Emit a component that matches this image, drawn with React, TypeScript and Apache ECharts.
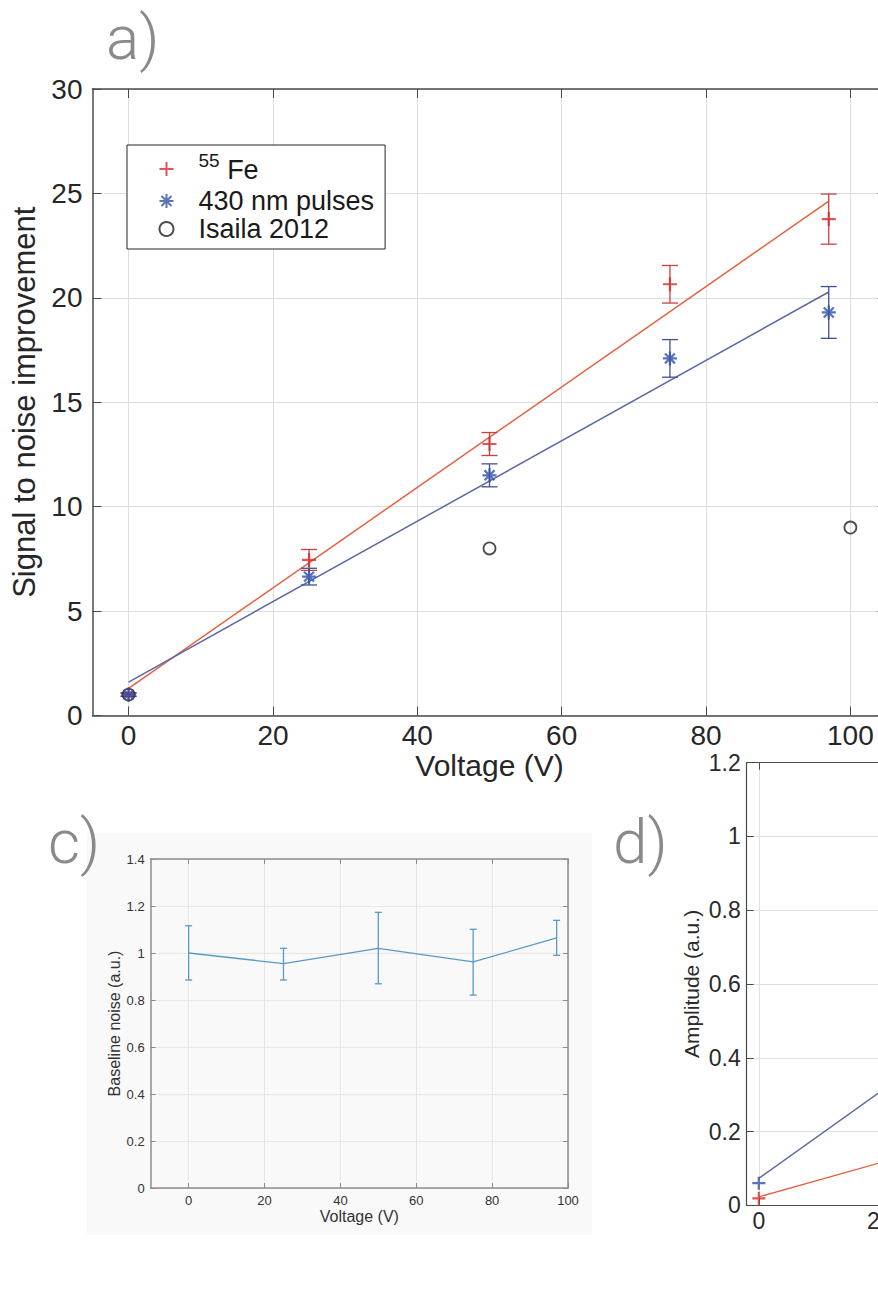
import React, { useEffect, useRef } from 'react';
import * as echarts from 'echarts';

// ---------- data: panel a) signal to noise improvement ----------
const voltages = [0, 25, 50, 75, 97];
const fe55Snr = [1.0, 7.45, 13.0, 20.65, 23.77];
const fe55Err = [0.08, 0.5, 0.55, 0.9, 1.2];
const pulseSnr = [1.0, 6.65, 11.5, 17.1, 19.3];
const pulseErr = [0.08, 0.4, 0.55, 0.9, 1.24];
const isailaV = [0, 50, 100];
const isailaSnr = [1.0, 8.0, 9.0];
const fitV = [0, 97];
const fe55Fit = [1.3, 24.63];
const pulseFit = [1.6, 20.28];
const snrTicksX = [0, 20, 40, 60, 80, 100];

// ---------- data: panel c) baseline noise ----------
const noiseV = [0, 25, 50, 75, 97];
const noiseMean = [1.0, 0.955, 1.02, 0.962, 1.064];
const noiseLow = [0.885, 0.885, 0.869, 0.821, 0.99];
const noiseHigh = [1.116, 1.02, 1.173, 1.101, 1.139];
const noiseTicksX = [0, 20, 40, 60, 80, 100];

// ---------- data: panel d) amplitude (only its left part is in view) ----------
const ampV = [0];
const ampPulse = [0.06];
const ampFe = [0.019];
const ampFitV = [0, 25];
const ampFitPulse = [0.073, 0.365];
const ampFitFe = [0.023, 0.138];
const ampTicksX = [0, 20, 40, 60, 80, 100];
const ampLabelsX = [0, 20];

const FE_NAME = '55 Fe';
const PULSE_NAME = '430 nm pulses';
const ISAILA_NAME = 'Isaila 2012';

const FONT = '"Liberation Sans", Arial, Helvetica, sans-serif';
const PANEL_FONT = 'Roboto, "Open Sans", sans-serif';
const RED_MARK = '#d42a2e';
const RED_ERR = '#c8403f';
const RED_FIT = '#e5603f';
const BLUE_MARK = '#2f4fa8';
const BLUE_ERR = '#3f5290';
const BLUE_FIT = '#5a68a8';
const NOISE_BLUE = '#5b9ac6';

const PLUS = 'path://M0,5L10,5M5,0L5,10';
const STAR = 'path://M5,0L5,10M0,5L10,5M1.46,1.46L8.54,8.54M8.54,1.46L1.46,8.54';

const pairs = (xs: number[], ys: number[]) => xs.map((x, i) => [x, ys[i]]);

function errorBarRenderer(color: string, halfCap: number, width: number) {
  return (_params: any, api: any) => {
    const x = api.value(0);
    const lo = api.coord([x, api.value(1)]);
    const hi = api.coord([x, api.value(2)]);
    const style = { stroke: color, lineWidth: width, fill: 'none' };
    return {
      type: 'group',
      children: [
        { type: 'line', shape: { x1: hi[0], y1: hi[1], x2: lo[0], y2: lo[1] }, style },
        { type: 'line', shape: { x1: hi[0] - halfCap, y1: hi[1], x2: hi[0] + halfCap, y2: hi[1] }, style },
        { type: 'line', shape: { x1: lo[0] - halfCap, y1: lo[1], x2: lo[0] + halfCap, y2: lo[1] }, style },
      ],
    };
  };
}

type AxisLook = {
  axisColor: string;
  axisWidth: number;
  gridColor: string;
  labelColor: string;
  fontSize: number;
  tickLen: number;
};

function xAxes(grid: number, min: number, max: number, ticks: number[], labels: number[], look: AxisLook, margin: number, name?: string, nameGap?: number, nameSize?: number) {
  const line = { show: true, onZero: false, lineStyle: { color: look.axisColor, width: look.axisWidth } };
  const tick = { show: true, inside: true, length: look.tickLen, customValues: ticks, lineStyle: { color: look.axisColor, width: 1 } };
  return [
    {
      gridIndex: grid, type: 'value', position: 'bottom', min, max,
      axisLine: line, axisTick: tick,
      axisLabel: { show: true, customValues: labels, margin, fontSize: look.fontSize, color: look.labelColor, fontFamily: FONT },
      splitLine: { show: true, lineStyle: { color: look.gridColor, width: 1 } },
      name: name || '', nameLocation: 'middle', nameGap: nameGap || 0,
      nameTextStyle: { fontSize: nameSize || 12, color: look.labelColor, fontFamily: FONT },
    },
    {
      gridIndex: grid, type: 'value', position: 'top', min, max,
      axisLine: line, axisTick: tick,
      axisLabel: { show: false, customValues: ticks },
      splitLine: { show: false },
    },
  ];
}

function yAxes(grid: number, min: number, max: number, interval: number, look: AxisLook, margin: number, name: string, nameGap: number, nameSize: number, fmt?: (v: number) => string) {
  const line = { show: true, onZero: false, lineStyle: { color: look.axisColor, width: look.axisWidth } };
  const tick = { show: true, inside: true, length: look.tickLen, lineStyle: { color: look.axisColor, width: 1 } };
  return [
    {
      gridIndex: grid, type: 'value', position: 'left', min, max, interval,
      axisLine: line, axisTick: tick,
      axisLabel: { show: true, margin, fontSize: look.fontSize, color: look.labelColor, fontFamily: FONT, formatter: fmt },
      splitLine: { show: true, lineStyle: { color: look.gridColor, width: 1 } },
      name, nameLocation: 'middle', nameGap,
      nameTextStyle: { fontSize: nameSize, color: look.labelColor, fontFamily: FONT },
    },
    {
      gridIndex: grid, type: 'value', position: 'right', min, max, interval,
      axisLine: line, axisTick: tick,
      axisLabel: { show: false },
      splitLine: { show: false },
    },
  ];
}

const lookA: AxisLook = { axisColor: '#4a4a4a', axisWidth: 1.5, gridColor: '#dedede', labelColor: '#262626', fontSize: 28, tickLen: 9 };
const lookC: AxisLook = { axisColor: '#8c8c8c', axisWidth: 1.5, gridColor: '#e6e6e6', labelColor: '#333333', fontSize: 13, tickLen: 5 };
const lookD: AxisLook = { axisColor: '#4a4a4a', axisWidth: 1.2, gridColor: '#e2e2e2', labelColor: '#2a2a2a', fontSize: 23, tickLen: 7 };

const trim = (v: number) => String(Math.round(v * 10) / 10);

const panelLabel = (text: string, x: number, y: number) => ({
  type: 'text',
  x,
  y,
  style: {
    text,
    fontSize: 62,
    lineHeight: 62,
    fontWeight: 300,
    fontFamily: PANEL_FONT,
    fill: '#8a8a8a',
    textVerticalAlign: 'middle',
  },
});

const option: any = {
  animation: false,
  backgroundColor: '#ffffff',
  graphic: [
    { type: 'rect', z: -10, shape: { x: 87, y: 833, width: 505, height: 402 }, style: { fill: '#f9f9f9' } },
    panelLabel('a)', 106, 37),
    panelLabel('c)', 48, 841),
    panelLabel('d)', 613, 841),
  ],
  grid: [
    { left: 92.5, top: 89, width: 794, height: 626.5 },
    { left: 150.7, top: 859, width: 417.3, height: 329 },
    { left: 746.7, top: 762.7, width: 617, height: 442.6 },
  ],
  xAxis: [
    ...xAxes(0, -5, 105, snrTicksX, snrTicksX, lookA, 6, 'Voltage (V)', 33, 30),
    ...xAxes(1, -10, 100, noiseTicksX, noiseTicksX, lookC, 6, 'Voltage (V)', 20, 16),
    ...xAxes(2, -2, 100, ampTicksX, ampLabelsX, lookD, 4),
  ],
  yAxis: [
    ...yAxes(0, 0, 30, 5, lookA, 10, 'Signal to noise improvement', 47, 31),
    ...yAxes(1, 0, 1.4, 0.2, lookC, 6, 'Baseline noise (a.u.)', 28, 16, trim),
    ...yAxes(2, 0, 1.2, 0.2, lookD, 6, 'Amplitude (a.u.)', 45, 21, trim),
  ],
  legend: {
    left: 127,
    top: 145,
    orient: 'vertical',
    backgroundColor: '#ffffff',
    borderColor: '#262626',
    borderWidth: 1,
    borderRadius: 0,
    padding: [6, 11, 6, 31.5],
    itemGap: 0,
    itemWidth: 54,
    itemHeight: 14,
    symbolKeepAspect: true,
    selectedMode: false,
    formatter: (name: string) => (name === FE_NAME ? '{sup|55} {fe|Fe}' : name),
    textStyle: {
      fontSize: 27,
      lineHeight: 28,
      color: '#1a1a1a',
      fontFamily: FONT,
      rich: {
        sup: { fontSize: 19, lineHeight: 19, padding: [0, 0, 17, 0], fontFamily: FONT, color: '#1a1a1a' },
        fe: { fontSize: 27, lineHeight: 28, verticalAlign: 'bottom', fontFamily: FONT, color: '#1a1a1a' },
      },
    },
    data: [
      { name: FE_NAME, icon: PLUS, itemStyle: { color: 'rgba(0,0,0,0)', borderColor: RED_MARK, borderWidth: 2 } },
      { name: PULSE_NAME, icon: STAR, itemStyle: { color: 'rgba(0,0,0,0)', borderColor: BLUE_MARK, borderWidth: 2 } },
      { name: ISAILA_NAME, icon: 'circle', itemStyle: { color: '#ffffff', borderColor: '#222222', borderWidth: 2 } },
    ],
  },
  series: [
    // ----- panel a -----
    {
      type: 'line', xAxisIndex: 0, yAxisIndex: 0, data: pairs(fitV, fe55Fit), symbol: 'none', silent: true, z: 2,
      lineStyle: { color: RED_FIT, width: 1.5 },
    },
    {
      type: 'line', xAxisIndex: 0, yAxisIndex: 0, data: pairs(fitV, pulseFit), symbol: 'none', silent: true, z: 2,
      lineStyle: { color: BLUE_FIT, width: 1.5 },
    },
    {
      type: 'custom', xAxisIndex: 0, yAxisIndex: 0, z: 3, silent: true,
      renderItem: errorBarRenderer(RED_ERR, 8, 1.3),
      encode: { x: 0, y: [1, 2] },
      data: voltages.map((v, i) => [v, fe55Snr[i] - fe55Err[i], fe55Snr[i] + fe55Err[i]]),
    },
    {
      type: 'custom', xAxisIndex: 0, yAxisIndex: 0, z: 3, silent: true,
      renderItem: errorBarRenderer(BLUE_ERR, 8, 1.3),
      encode: { x: 0, y: [1, 2] },
      data: voltages.map((v, i) => [v, pulseSnr[i] - pulseErr[i], pulseSnr[i] + pulseErr[i]]),
    },
    {
      name: FE_NAME, type: 'scatter', xAxisIndex: 0, yAxisIndex: 0, z: 4,
      symbol: PLUS, symbolSize: 14,
      itemStyle: { color: 'rgba(0,0,0,0)', borderColor: RED_MARK, borderWidth: 2.2 },
      data: pairs(voltages, fe55Snr),
    },
    {
      name: PULSE_NAME, type: 'scatter', xAxisIndex: 0, yAxisIndex: 0, z: 5,
      symbol: STAR, symbolSize: 14,
      itemStyle: { color: 'rgba(0,0,0,0)', borderColor: BLUE_MARK, borderWidth: 2.2 },
      data: pairs(voltages, pulseSnr),
    },
    {
      name: ISAILA_NAME, type: 'scatter', xAxisIndex: 0, yAxisIndex: 0, z: 4,
      symbol: 'circle', symbolSize: 12,
      itemStyle: { color: 'rgba(0,0,0,0)', borderColor: '#222222', borderWidth: 1.8 },
      data: pairs(isailaV, isailaSnr),
    },
    // ----- panel c -----
    {
      type: 'line', xAxisIndex: 2, yAxisIndex: 2, data: pairs(noiseV, noiseMean), symbol: 'none', silent: true, z: 2,
      lineStyle: { color: NOISE_BLUE, width: 1.3 },
    },
    {
      type: 'custom', xAxisIndex: 2, yAxisIndex: 2, z: 3, silent: true,
      renderItem: errorBarRenderer(NOISE_BLUE, 3.5, 1.3),
      encode: { x: 0, y: [1, 2] },
      data: noiseV.map((v, i) => [v, noiseLow[i], noiseHigh[i]]),
    },
    // ----- panel d -----
    {
      type: 'line', xAxisIndex: 4, yAxisIndex: 4, data: pairs(ampFitV, ampFitPulse), symbol: 'none', silent: true, z: 2,
      lineStyle: { color: BLUE_FIT, width: 1.4 },
    },
    {
      type: 'line', xAxisIndex: 4, yAxisIndex: 4, data: pairs(ampFitV, ampFitFe), symbol: 'none', silent: true, z: 2,
      lineStyle: { color: RED_FIT, width: 1.4 },
    },
    {
      type: 'scatter', xAxisIndex: 4, yAxisIndex: 4, z: 4, silent: true,
      symbol: PLUS, symbolSize: 13,
      itemStyle: { color: 'rgba(0,0,0,0)', borderColor: BLUE_MARK, borderWidth: 2.2 },
      data: pairs(ampV, ampPulse),
    },
    {
      type: 'scatter', xAxisIndex: 4, yAxisIndex: 4, z: 4, silent: true,
      symbol: PLUS, symbolSize: 13,
      itemStyle: { color: 'rgba(0,0,0,0)', borderColor: RED_MARK, borderWidth: 2.2 },
      data: pairs(ampV, ampFe),
    },
  ],
};

export default function App() {
  const ref = useRef<HTMLDivElement>(null);
  useEffect(() => {
    if (!ref.current) return;
    const chart = echarts.init(ref.current, null, { renderer: 'svg' });
    chart.setOption(option);
    return () => chart.dispose();
  }, []);
  return (
    <div
      style={{ position: 'absolute', left: 0, top: 0, width: 878, height: 1302, overflow: 'hidden', background: '#ffffff' }}
    >
      <div ref={ref} style={{ width: 1500, height: 1302 }} />
    </div>
  );
}
